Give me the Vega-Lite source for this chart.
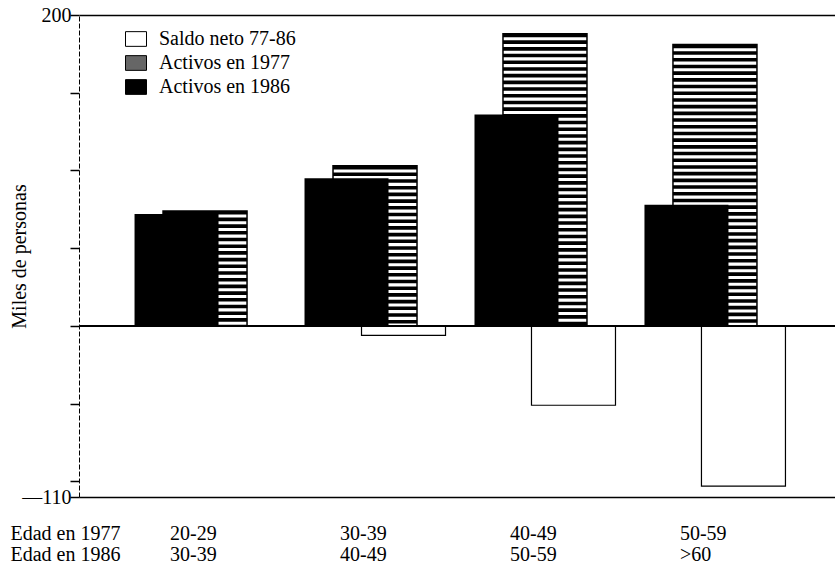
{
  "$schema": "https://vega.github.io/schema/vega-lite/v6.json",
  "width": 762,
  "height": 482,
  "autosize": {"type": "none"},
  "padding": {"left": 79, "top": 15, "right": 0, "bottom": 76},
  "background": "white",
  "config": {"view": {"stroke": null}, "font": "Liberation Serif"},
  "data": {
    "values": [
      {"grupo": "20-29|30-39", "serie": "Activos en 1977", "valor": 74},
      {"grupo": "20-29|30-39", "serie": "Activos en 1986", "valor": 72},
      {"grupo": "20-29|30-39", "serie": "Saldo neto 77-86", "valor": 0},
      {"grupo": "30-39|40-49", "serie": "Activos en 1977", "valor": 103},
      {"grupo": "30-39|40-49", "serie": "Activos en 1986", "valor": 95},
      {"grupo": "30-39|40-49", "serie": "Saldo neto 77-86", "valor": -6},
      {"grupo": "40-49|50-59", "serie": "Activos en 1977", "valor": 188},
      {"grupo": "40-49|50-59", "serie": "Activos en 1986", "valor": 136},
      {"grupo": "40-49|50-59", "serie": "Saldo neto 77-86", "valor": -51},
      {"grupo": "50-59|>60", "serie": "Activos en 1977", "valor": 181},
      {"grupo": "50-59|>60", "serie": "Activos en 1986", "valor": 78},
      {"grupo": "50-59|>60", "serie": "Saldo neto 77-86", "valor": -103}
    ]
  },
  "resolve": {"axis": {"x": "independent"}},
  "layer": [
    {
      "transform": [{"filter": "datum.serie == 'Saldo neto 77-86'"}],
      "mark": {"type": "bar", "width": 84, "strokeWidth": 1.2},
      "encoding": {
        "x": {
          "field": "grupo", "type": "nominal", "sort": null,
          "scale": {"paddingInner": 0.497, "paddingOuter": 0.49},
          "axis": {
            "orient": "bottom",
            "labelExpr": "split(datum.value, '|')",
            "labelAngle": 0,
            "labelAlign": "left",
            "labelBaseline": "top",
            "labelOffset": -35,
            "labelPadding": 26,
            "labelLineHeight": 21,
            "labelFont": "Liberation Serif",
            "labelFontSize": 20,
            "labelColor": "black",
            "ticks": false,
            "tickSize": 0,
            "domainColor": "black",
            "domainWidth": 1.6,
            "title": ["Edad en 1977", "Edad en 1986"],
            "titleFont": "Liberation Serif",
            "titleFontSize": 20,
            "titleFontWeight": "normal",
            "titleColor": "black",
            "titleAlign": "left",
            "titleBaseline": "top",
            "titleAnchor": "start",
            "titleX": -69,
            "titleY": 26,
            "titleLineHeight": 21
          }
        },
        "xOffset": {
          "field": "serie", "type": "nominal",
          "sort": ["Activos en 1986", "Activos en 1977", "Saldo neto 77-86"],
          "scale": {"domain": ["Activos en 1986", "Activos en 1977", "Saldo neto 77-86"], "paddingInner": 0, "paddingOuter": 0}
        },
        "y": {
          "field": "valor", "type": "quantitative",
          "scale": {"domain": [-110, 200], "nice": false, "zero": false},
          "axis": {
            "values": [-110, -100, -50, 0, 50, 100, 150, 200],
            "labelExpr": "datum.value == 200 ? '200' : (datum.value == -110 ? '\u2014110' : '')",
            "grid": false,
            "tickSize": 9,
            "tickWidth": 1.5,
            "tickColor": "black",
            "labelPadding": -1,
            "labelFont": "Liberation Serif",
            "labelFontSize": 20,
            "labelColor": "black",
            "labelFlush": false,
            "domainColor": "black",
            "domainWidth": 1,
            "domainDash": [5, 2],
            "title": "Miles de personas",
            "titleFont": "Liberation Serif",
            "titleFontSize": 20,
            "titleFontWeight": "normal",
            "titleColor": "black",
            "titleX": -54,
            "titleY": 241,
            "titleBaseline": "alphabetic"
          }
        },
        "stroke": {
          "field": "serie", "type": "nominal",
          "scale": {
            "domain": ["Saldo neto 77-86", "Activos en 1977", "Activos en 1986"],
            "range": ["black", "black", "black"]
          },
          "legend": {
            "title": null,
            "orient": "none",
            "legendX": 46,
            "legendY": 13,
            "symbolType": "M-1,-0.7H1V0.7H-1Z",
            "symbolSize": 441,
            "symbolStrokeWidth": 1,
            "labelFont": "Liberation Serif",
            "labelFontSize": 20,
            "labelColor": "black",
            "labelOffset": 12,
            "rowPadding": 3
          }
        },
        "fill": {
          "field": "serie", "type": "nominal",
          "scale": {
            "domain": ["Saldo neto 77-86", "Activos en 1977", "Activos en 1986"],
            "range": ["white", "#666666", "black"]
          },
          "legend": {
            "title": null,
            "orient": "none",
            "legendX": 46,
            "legendY": 13,
            "symbolType": "M-1,-0.7H1V0.7H-1Z",
            "symbolSize": 441,
            "symbolStrokeWidth": 1,
            "labelFont": "Liberation Serif",
            "labelFontSize": 20,
            "labelColor": "black",
            "labelOffset": 12,
            "rowPadding": 3
          }
        }
      }
    },
    {
      "transform": [{"filter": "datum.serie == 'Activos en 1977'"}],
      "mark": {"type": "bar", "width": 84, "fill": "white", "stroke": "black", "strokeWidth": 1.5},
      "encoding": {
        "x": {
          "field": "grupo", "type": "nominal", "sort": null,
          "axis": {"orient": "top", "labels": false, "ticks": false, "domainColor": "black", "domainWidth": 1.6, "title": null}
        },
        "xOffset": {"field": "serie", "type": "nominal"},
        "y": {"field": "valor", "type": "quantitative"}
      }
    },
    {
      "transform": [{"filter": "datum.serie == 'Activos en 1977'"}],
      "mark": {"type": "rule", "strokeWidth": 84, "strokeCap": "butt", "strokeDash": [3.6, 3.1], "color": "black"},
      "encoding": {
        "x": {"field": "grupo", "type": "nominal", "sort": null, "axis": null},
        "xOffset": {"field": "serie", "type": "nominal"},
        "y": {"field": "valor", "type": "quantitative"},
        "y2": {"datum": 0}
      }
    },
    {
      "transform": [{"filter": "datum.serie == 'Activos en 1986'"}],
      "mark": {"type": "bar", "width": 84},
      "encoding": {
        "x": {"field": "grupo", "type": "nominal", "sort": null, "axis": null},
        "xOffset": {"field": "serie", "type": "nominal"},
        "y": {"field": "valor", "type": "quantitative"},
        "fill": {"field": "serie", "type": "nominal"}
      }
    },
    {
      "mark": {"type": "rule", "color": "black", "strokeWidth": 2},
      "encoding": {"y": {"datum": 0}}
    }
  ]
}
